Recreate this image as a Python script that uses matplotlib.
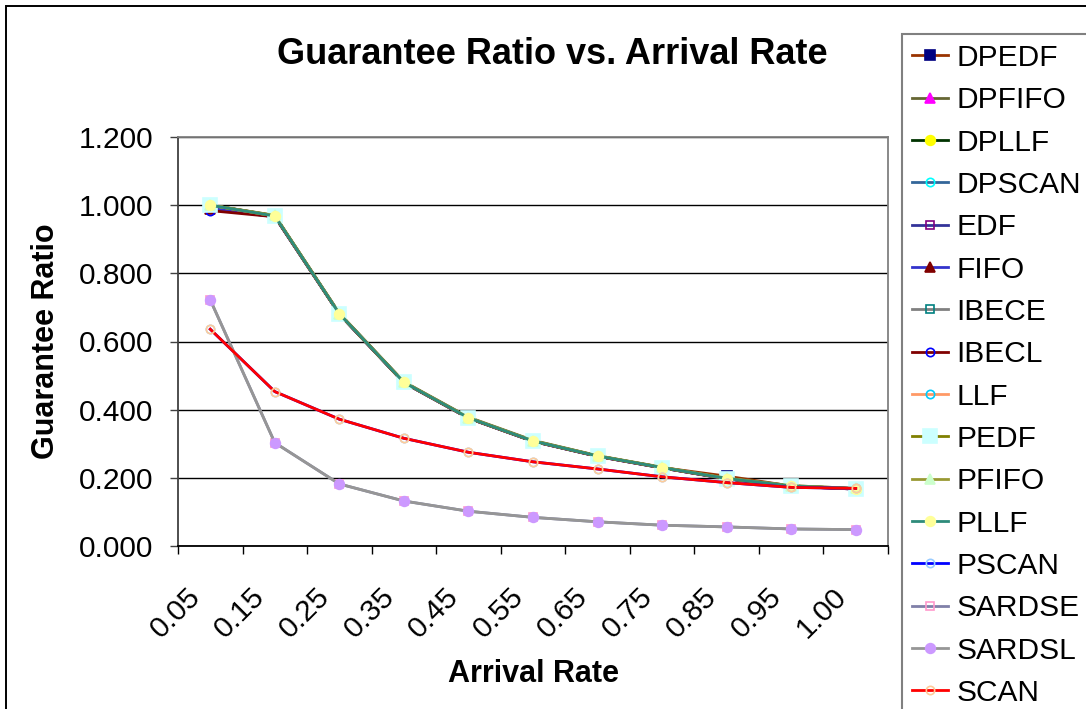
import matplotlib
matplotlib.use("Agg")
import matplotlib.pyplot as plt
import numpy as np
from matplotlib.patches import Rectangle
from matplotlib.transforms import ScaledTranslation

plt.rcParams['font.family'] = ['Liberation Sans', 'DejaVu Sans']

categories = ['0.05', '0.15', '0.25', '0.35', '0.45', '0.55', '0.65', '0.75', '0.85', '0.95', '1.00']

DPEDF  = [1.000, 0.968, 0.681, 0.480, 0.376, 0.308, 0.264, 0.230, 0.205, 0.176, 0.168]
DPFIFO = [1.000, 0.970, 0.683, 0.482, 0.378, 0.310, 0.265, 0.231, 0.199, 0.177, 0.169]
DPLLF  = [1.000, 0.969, 0.681, 0.480, 0.376, 0.308, 0.264, 0.230, 0.198, 0.176, 0.168]
DPSCAN = [1.000, 0.968, 0.681, 0.480, 0.376, 0.308, 0.264, 0.230, 0.198, 0.176, 0.168]
EDF    = [0.990, 0.966, 0.680, 0.479, 0.375, 0.307, 0.263, 0.229, 0.197, 0.175, 0.167]
FIFO   = [0.990, 0.966, 0.680, 0.479, 0.375, 0.307, 0.263, 0.229, 0.197, 0.175, 0.167]
IBECE  = [1.000, 0.968, 0.681, 0.480, 0.376, 0.308, 0.264, 0.230, 0.198, 0.176, 0.168]
IBECL  = [0.984, 0.966, 0.680, 0.479, 0.375, 0.307, 0.263, 0.229, 0.197, 0.175, 0.167]
LLF    = [1.000, 0.968, 0.681, 0.480, 0.376, 0.308, 0.264, 0.230, 0.198, 0.176, 0.168]
PEDF   = [1.000, 0.968, 0.681, 0.480, 0.376, 0.308, 0.264, 0.230, 0.198, 0.176, 0.168]
PFIFO  = [1.000, 0.970, 0.682, 0.481, 0.377, 0.309, 0.265, 0.231, 0.199, 0.177, 0.169]
PLLF   = [1.000, 0.968, 0.681, 0.480, 0.376, 0.308, 0.264, 0.230, 0.198, 0.176, 0.168]
PSCAN  = [0.636, 0.453, 0.372, 0.316, 0.275, 0.247, 0.226, 0.203, 0.186, 0.172, 0.169]
SARDSE = [0.722, 0.303, 0.182, 0.132, 0.102, 0.084, 0.071, 0.061, 0.056, 0.050, 0.048]
SARDSL = [0.722, 0.303, 0.182, 0.132, 0.102, 0.084, 0.071, 0.061, 0.056, 0.050, 0.048]
SCAN   = [0.636, 0.453, 0.372, 0.316, 0.275, 0.247, 0.226, 0.203, 0.186, 0.172, 0.169]

series_names = ['DPEDF', 'DPFIFO', 'DPLLF', 'DPSCAN', 'EDF', 'FIFO', 'IBECE', 'IBECL',
                'LLF', 'PEDF', 'PFIFO', 'PLLF', 'PSCAN', 'SARDSE', 'SARDSL', 'SCAN']
series_values = [DPEDF, DPFIFO, DPLLF, DPSCAN, EDF, FIFO, IBECE, IBECL,
                 LLF, PEDF, PFIFO, PLLF, PSCAN, SARDSE, SARDSL, SCAN]

# (line color, marker, marker face, marker edge, marker size)
styles = [
    ('#993300', 's', '#000080', '#000080', 7.0),
    ('#666633', '^', '#FF00FF', '#FF00FF', 7.0),
    ('#003300', 'o', '#FFFF00', '#FFFF00', 7.0),
    ('#336699', 'o', 'none',    '#00FFFF', 6.0),
    ('#333399', 's', 'none',    '#800080', 6.0),
    ('#3333CC', '^', '#800000', '#800000', 7.0),
    ('#808080', 's', 'none',    '#008080', 6.0),
    ('#800000', 'o', 'none',    '#0000FF', 6.0),
    ('#FF9966', 'o', 'none',    '#00CCFF', 6.0),
    ('#808000', 's', '#CCFFFF', '#CCFFFF', 10.0),
    ('#999933', '^', '#CCFFCC', '#CCFFCC', 7.5),
    ('#2E8B7A', 'o', '#FFFF99', '#FFFF99', 7.0),
    ('#0000FF', 'o', 'none',    '#99CCFF', 6.0),
    ('#8080A8', 's', 'none',    '#FF99CC', 6.0),
    ('#969696', 'o', '#CC99FF', '#CC99FF', 7.0),
    ('#FF0000', 'o', 'none',    '#FFCC99', 6.0),
]

W, H = 1086, 709
fig = plt.figure(figsize=(W / 100, H / 100), dpi=100)
fig.patch.set_facecolor('white')

# outer chart border (cropped at right/bottom)
fig.add_artist(Rectangle((6 / W, -1), 2, 2 - 6 / H, transform=fig.transFigure,
                         fill=False, edgecolor='black', linewidth=1.4))

ax = fig.add_axes([178 / W, (H - 546) / H, 710 / W, 409 / H])
x = np.arange(len(categories))

for name, vals, (lc, mk, mf, me, ms) in zip(series_names, series_values, styles):
    ax.plot(x, vals, color=lc, linewidth=2.0, marker=mk, markerfacecolor=mf,
            markeredgecolor=me, markersize=ms, markeredgewidth=1.2, label=name)

ax.set_xlim(-0.5, len(categories) - 0.5)
ax.set_ylim(0, 1.2)
ax.set_yticks(np.arange(0, 1.21, 0.2))
ax.set_yticklabels(['%.3f' % v for v in np.arange(0, 1.21, 0.2)], fontsize=21.5)
ax.yaxis.grid(True, color='black', linewidth=1.0)
ax.set_axisbelow(True)

ax.set_xticks(x)
ax.set_xticks(np.arange(-0.5, len(categories), 1.0), minor=True)
ax.tick_params(axis='x', which='major', length=0, pad=33)
ax.tick_params(axis='x', which='minor', length=6, width=1.0, color='black')
ax.tick_params(axis='y', which='major', length=6, width=1.0, color='#404040', pad=12)
ax.set_xticklabels(categories, fontsize=21.5, rotation=45, ha='right', va='center',
                   rotation_mode='anchor')
for lab in ax.get_xticklabels():
    lab.set_transform(lab.get_transform() + ScaledTranslation(-0.14, 0, fig.dpi_scale_trans))

for side in ['top', 'right']:
    ax.spines[side].set_color('#808080')
ax.spines['left'].set_color('#404040')
ax.spines['bottom'].set_color('black')
for s in ax.spines.values():
    s.set_linewidth(1.3)

ax.set_xlabel('Arrival Rate', fontsize=22, fontweight='bold')
ax.xaxis.set_label_coords(0.5, (546 - 674) / 409)
ax.xaxis.label.set_va('center')
ax.set_ylabel('Guarantee Ratio', fontsize=22, fontweight='bold')
ax.yaxis.set_label_coords((46 - 178) / 710, 0.5)
ax.yaxis.label.set_va('center')

fig.text(552 / W, 1 - 55 / H, 'Guarantee Ratio vs. Arrival Rate', fontsize=26,
         fontweight='bold', ha='center', va='center')

leg = ax.legend(loc='upper left', bbox_to_anchor=(902 / W, 1 - 34 / H),
                bbox_transform=fig.transFigure, borderaxespad=0, fontsize=21.5,
                frameon=True, fancybox=False, framealpha=1, edgecolor='#808080',
                handlelength=1.2, handletextpad=0.3, borderpad=0.33,
                labelspacing=0.48, numpoints=1)
leg.get_frame().set_linewidth(1.5)

fig.savefig('out.png', dpi=100)
